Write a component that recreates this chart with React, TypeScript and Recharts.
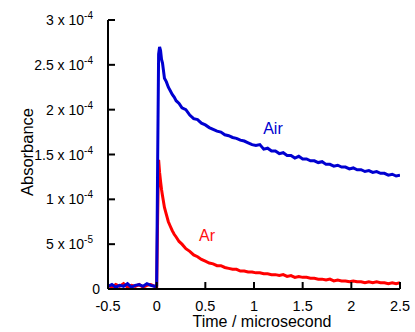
import React from 'react';
import { LineChart, Line, XAxis, YAxis, ReferenceDot } from 'recharts';

const FONT = '"Liberation Sans", Arial, Helvetica, sans-serif';

const times = [
  -0.5, -0.46, -0.42, -0.38, -0.34, -0.3, -0.26, -0.22, -0.18, -0.14, -0.1, -0.06, -0.02,
  0, 0.01, 0.02, 0.03, 0.04, 0.05, 0.06, 0.08, 0.1, 0.12, 0.14, 0.16, 0.18, 0.2, 0.23, 0.26, 0.3,
  0.34, 0.38, 0.42, 0.46, 0.5, 0.54, 0.58, 0.62, 0.66, 0.7, 0.74, 0.78, 0.82, 0.86, 0.9, 0.94, 0.98,
  1.02, 1.06, 1.1, 1.14, 1.18, 1.22, 1.26, 1.3, 1.34, 1.38, 1.42, 1.46, 1.5, 1.54, 1.58, 1.62, 1.66,
  1.7, 1.74, 1.78, 1.82, 1.86, 1.9, 1.94, 1.98, 2.02, 2.06, 2.1, 2.14, 2.18, 2.22, 2.26, 2.3, 2.34,
  2.38, 2.42, 2.46, 2.5,
];

// absorbance in units of 1e-5
const air = [
  0.3, 0.5, 0.2, 0.4, 0.3, 0.6, 0.2, 0.4, 0.5, 0.3, 0.6, 0.4, 0.3,
  0.4, 14, 26.2, 27.0, 26.6, 25.6, 25.2, 23.5, 23.1, 22.5, 22.1, 21.7, 21.4, 21.0, 20.7, 20.2, 20.0,
  19.4, 19.0, 18.9, 18.5, 18.3, 18.0, 17.8, 17.6, 17.5, 17.2,
  17.1, 16.9, 16.8, 16.6, 16.5, 16.3, 16.1, 16.0, 16.1, 15.6,
  15.7, 15.4, 15.4, 15.1, 15.2, 14.9, 14.9, 14.6, 14.8, 14.5,
  14.5, 14.3, 14.3, 14.1, 14.2, 13.9, 13.9, 13.7, 13.8, 13.6,
  13.6, 13.4, 13.5, 13.3, 13.3, 13.1, 13.2, 13.0, 13.1, 12.9,
  12.9, 12.7, 12.8, 12.6, 12.7,
];

const ar = [
  0.4, 0.2, 0.5, 0.3, 0.6, 0.2, 0.4, 0.3, 0.5, 0.2, 0.4, 0.5, 0.3,
  0.2, 8, 14.4, 13.0, 12.0, 11.1, 10.4, 9.1, 8.3, 7.5, 7.0, 6.5, 6.1, 5.8, 5.3, 5.0, 4.5,
  4.2, 3.8, 3.6, 3.3, 3.1, 2.9, 2.8, 2.6, 2.6, 2.4,
  2.3, 2.2, 2.2, 2.0, 2.0, 1.9, 1.9, 1.8, 1.8, 1.7,
  1.7, 1.6, 1.6, 1.5, 1.6, 1.4, 1.5, 1.3, 1.4, 1.3,
  1.3, 1.2, 1.2, 1.1, 1.1, 1.0, 1.1, 0.9, 1.0, 0.9,
  0.9, 0.8, 0.9, 0.8, 0.8, 0.7, 0.8, 0.7, 0.8, 0.7,
  0.7, 0.6, 0.7, 0.6, 0.7,
];

const xTicks = [-0.5, 0, 0.5, 1, 1.5, 2, 2.5];
const xTickLabels = ['-0.5', '0', '0.5', '1', '1.5', '2', '2.5'];
const yTicks = [0, 5, 10, 15, 20, 25, 30];
const yTickMain = ['0', '5 x 10', '1 x 10', '1.5 x 10', '2 x 10', '2.5 x 10', '3 x 10'];
const yTickExp = ['', '-5', '-4', '-4', '-4', '-4', '-4'];

const seriesLabels = [
  { name: 'Air', x: 1.195, y: 17.3, color: '#0000d0' },
  { name: 'Ar', x: 0.517, y: 5.35, color: '#ff1010' },
];

const data = times.map((t, i) => ({ t, air: air[i], ar: ar[i] }));

const BLUE = '#0000d0';
const RED = '#ff0000';

const BottomTick = (props: any) => {
  const { x, y, payload } = props;
  const i = xTicks.indexOf(payload.value);
  return (
    <g>
      <line x1={x} y1={y} x2={x} y2={y - 7} stroke="#000" strokeWidth={2} />
      <text x={x} y={y + 22} textAnchor="middle" fontSize={14.5} fontFamily={FONT} fill="#000">
        {xTickLabels[i]}
      </text>
    </g>
  );
};

const TopTick = (props: any) => {
  const { x, y } = props;
  return <line x1={x} y1={y} x2={x} y2={y + 7} stroke="#000" strokeWidth={2} />;
};

const LeftTick = (props: any) => {
  const { x, y, payload } = props;
  const i = yTicks.indexOf(payload.value);
  const exp = yTickExp[i];
  return (
    <g>
      <line x1={x} y1={y} x2={x + 7} y2={y} stroke="#000" strokeWidth={2} />
      <text x={exp ? x - 15 : x - 8} y={y + 5} textAnchor="end" fontSize={14} fontFamily={FONT} fill="#000">
        <tspan>{yTickMain[i]}</tspan>
        {exp ? (
          <tspan dy={-6} fontSize={10}>
            {exp}
          </tspan>
        ) : null}
      </text>
    </g>
  );
};

const RightTick = (props: any) => {
  const { x, y } = props;
  return <line x1={x} y1={y} x2={x - 7} y2={y} stroke="#000" strokeWidth={2} />;
};

const axisLine = { stroke: '#000', strokeWidth: 2 };

export default function App() {
  return (
    <div style={{ position: 'absolute', left: 0, top: 0, width: 415, height: 332, background: '#fff' }}>
      <LineChart width={415} height={332} data={data} margin={{ top: 20, right: 15, bottom: 0, left: 0 }}>
        <XAxis
          dataKey="t"
          type="number"
          domain={[-0.5, 2.5]}
          ticks={xTicks}
          interval={0}
          allowDataOverflow
          height={43}
          tickSize={0}
          tickMargin={0}
          tickLine={false}
          axisLine={axisLine}
          tick={<BottomTick />}
          label={{
            content: () => (
              <text x={262} y={327} textAnchor="middle" fontSize={16} fontFamily={FONT} fill="#000">
                Time / microsecond
              </text>
            ),
          }}
        />
        <XAxis
          xAxisId="top"
          orientation="top"
          dataKey="t"
          type="number"
          domain={[-0.5, 2.5]}
          ticks={xTicks}
          interval={0}
          allowDataOverflow
          height={0}
          tickSize={0}
          tickMargin={0}
          tickLine={false}
          axisLine={axisLine}
          tick={<TopTick />}
        />
        <YAxis
          type="number"
          domain={[0, 30]}
          ticks={yTicks}
          interval={0}
          allowDataOverflow
          width={108}
          tickSize={0}
          tickMargin={0}
          tickLine={false}
          axisLine={axisLine}
          tick={<LeftTick />}
          label={{
            content: () => (
              <text
                x={33}
                y={152}
                transform="rotate(-90, 33, 152)"
                textAnchor="middle"
                fontSize={16.5}
                fontFamily={FONT}
                fill="#000"
              >
                Absorbance
              </text>
            ),
          }}
        />
        <YAxis
          yAxisId="right"
          orientation="right"
          type="number"
          domain={[0, 30]}
          ticks={yTicks}
          interval={0}
          allowDataOverflow
          width={0}
          tickSize={0}
          tickMargin={0}
          tickLine={false}
          axisLine={axisLine}
          tick={<RightTick />}
        />
        <Line
          type="linear"
          dataKey="ar"
          stroke={RED}
          strokeWidth={3}
          dot={false}
          isAnimationActive={false}
        />
        <Line
          type="linear"
          dataKey="air"
          stroke={BLUE}
          strokeWidth={3}
          dot={false}
          isAnimationActive={false}
        />
        {seriesLabels.map((s) => (
          <ReferenceDot
            key={s.name}
            x={s.x}
            y={s.y}
            r={0}
            fill="none"
            stroke="none"
            ifOverflow="visible"
            label={{
              content: (p: any) => (
                <text
                  x={p.viewBox.x}
                  y={p.viewBox.y}
                  textAnchor="middle"
                  fontSize={16}
                  fontFamily={FONT}
                  fill={s.color}
                >
                  {s.name}
                </text>
              ),
            }}
          />
        ))}
      </LineChart>
    </div>
  );
}
